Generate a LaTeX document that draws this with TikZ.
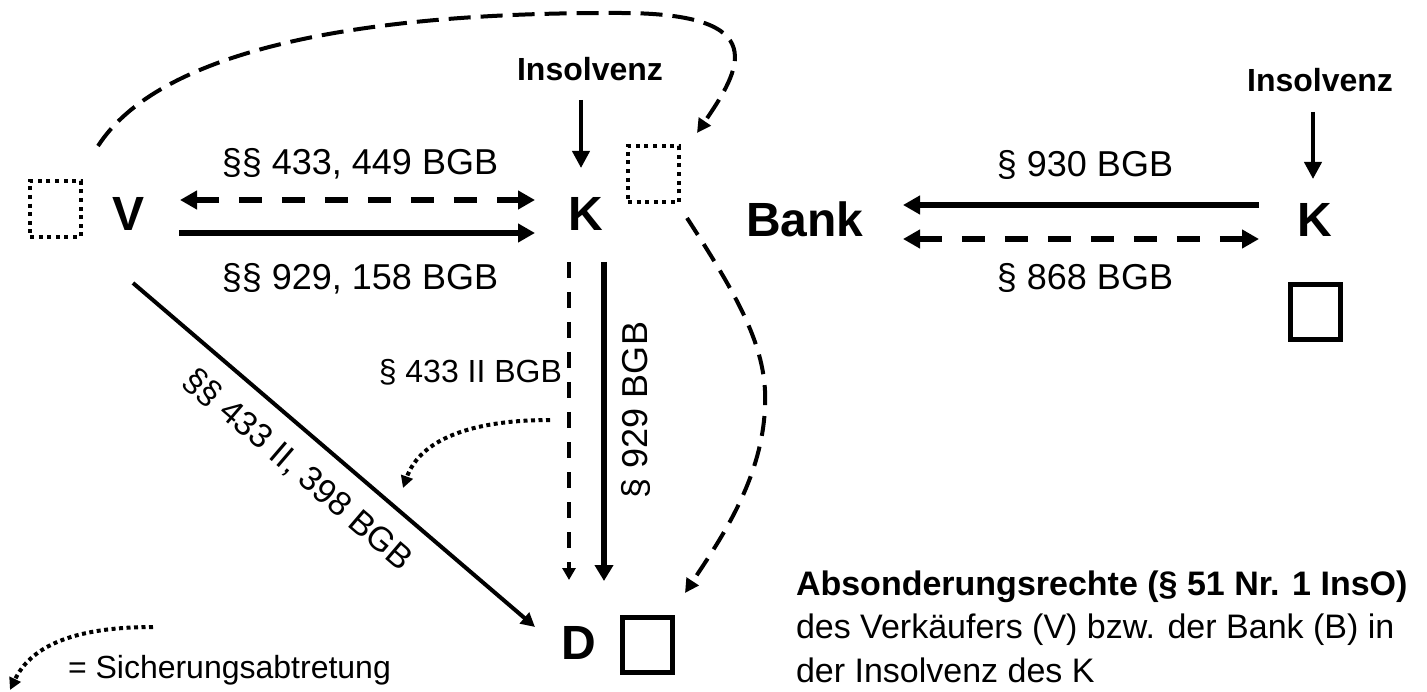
\documentclass[tikz,border=0pt]{standalone}
\usepackage{fontspec}
\setmainfont{Liberation Sans}
\usetikzlibrary{arrows.meta}
\begin{document}
\begin{tikzpicture}[x=1pt,y=-1pt,
  every node/.style={inner sep=0pt,outer sep=0pt},
  party/.style={font=\fontsize{48}{56}\selectfont\bfseries,anchor=base},
  ins/.style={font=\fontsize{32}{38}\selectfont\bfseries,anchor=base},
  lab/.style={font=\fontsize{36}{42}\selectfont,anchor=base},
  smalllab/.style={font=\fontsize{32}{38}\selectfont},
  bodytext/.style={font=\fontsize{34}{40}\selectfont,anchor=base west},
  dotbox/.style={draw,line width=4pt,dash pattern=on 4pt off 4.6pt,minimum width=51pt,minimum height=56pt},
  solidbox/.style={draw,line width=5pt,minimum width=50pt,minimum height=55pt},
  thickline/.style={line width=6pt},
  thickdash/.style={line width=6pt,dash pattern=on 23pt off 20pt},
  vdash/.style={line width=4pt,dash pattern=on 16pt off 14pt},
  curvedash/.style={line width=4pt,dash pattern=on 22pt off 10pt},
  dotline/.style={line width=4pt,dash pattern=on 4pt off 3.5pt},
  BigT/.tip={Triangle[length=17pt,width=18pt]},
  VertT/.tip={Triangle[length=16pt,width=18pt]},
  SmlT/.tip={Triangle[length=12pt,width=13pt]},
  InsT/.tip={Triangle[length=17pt,width=17pt]},
  MidT/.tip={Triangle[length=14pt,width=14pt]},
  DotT/.tip={Triangle[length=12pt,width=12pt]}
]
\useasboundingbox (0,0) rectangle (1427,692);

% parties
\node[party] (V) at (129,231) {V};
\node[party] (K1) at (585.5,231) {K};
\node[party] (Bank) at (805,237) {Bank};
\node[party] (K2) at (1315,237) {K};
\node[party] (D) at (579,659) {D};

% boxes
\node[dotbox] (box1) at (55.5,209) {};
\node[dotbox] (box2) at (653.5,174.5) {};
\node[solidbox] (box3) at (1315.5,312) {};
\node[solidbox] (box4) at (647.5,645) {};

% Insolvenz
\node[ins] (ins1) at (590,81) {Insolvenz};
\node[ins] (ins2) at (1320,92) {Insolvenz};
\coordinate (i1a) at (581,100); \coordinate (i1b) at (581,168);
\coordinate (i2a) at (1313,112); \coordinate (i2b) at (1313,179);
\draw[line width=4pt,-{InsT}] (i1a) -- (i1b);
\draw[line width=4pt,-{InsT}] (i2a) -- (i2b);

% V - K
\coordinate (vkA) at (180,200); \coordinate (kvA) at (535,200);
\coordinate (vkB) at (179,233); \coordinate (kvB) at (535,233);
\draw[thickdash,{BigT}-{BigT}] (vkA) -- (kvA);
\draw[thickline,-{BigT}] (vkB) -- (kvB);
\node[lab] (l1) at (360,175) {§§ 433, 449 BGB};
\node[lab] (l2) at (360,290) {§§ 929, 158 BGB};

% Bank - K
\coordinate (bkA) at (1259,205); \coordinate (kbA) at (903,205);
\coordinate (bkB) at (903,239); \coordinate (kbB) at (1259,239);
\draw[thickline,-{BigT}] (bkA) -- (kbA);
\draw[thickdash,{BigT}-{BigT}] (bkB) -- (kbB);
\node[lab] (l3) at (1085,177) {§ 930 BGB};
\node[lab] (l4) at (1085,290) {§ 868 BGB};

% K - D
\coordinate (kdA) at (569,262); \coordinate (dkA) at (569,580);
\coordinate (kdB) at (604,262); \coordinate (dkB) at (604,581);
\draw[vdash,-{SmlT}] (kdA) -- (dkA);
\draw[thickline,-{VertT}] (kdB) -- (dkB);
\node[smalllab,anchor=base east] (l5) at (562,383) {§ 433 II BGB};
\node[lab,rotate=90] (l6) at (647,410) {§ 929 BGB};

% V - D
\coordinate (vdA) at (133,283); \coordinate (vdB) at (535,627);
\draw[line width=4pt,-{MidT}] (vdA) -- (vdB);
\node[font=\fontsize{34}{40}\selectfont,rotate=-40.6] (l7) at (298,470) {§§ 433 II, 398 BGB};

% dashed curves
\coordinate (c1s) at (98,146); \coordinate (c1e) at (697,133);
\draw[curvedash,-{MidT}] (c1s) .. controls (160,50) and (360,12) .. (620,13)
      .. controls (775,13) and (740,70) .. (c1e);
\coordinate (c2s) at (687,218); \coordinate (c2e) at (685,593);
\draw[line width=4pt,dash pattern=on 20pt off 11pt,-{MidT}] (c2s) .. controls (740,300) and (768,350) .. (765,407)
      .. controls (762,480) and (720,540) .. (c2e);

% dotted curves
\coordinate (d1s) at (550,420); \coordinate (d1e) at (403,488);
\draw[dotline,-{DotT}] (d1s) .. controls (470,420) and (420,440) .. (d1e);
\coordinate (d2s) at (153,627); \coordinate (d2e) at (10,690);
\draw[dotline,-{DotT}] (d2s) .. controls (70,627) and (30,648) .. (d2e);
\node[smalllab,anchor=base west] (legend) at (68,678) {= Sicherungsabtretung};

% text block
\node[bodytext] (abs1) at (796,595) {\bfseries Absonderungsrechte (§ 51 Nr. 1 InsO)};
\node[bodytext] (abs2) at (796,638.5) {des Verkäufers (V) bzw. der Bank (B) in};
\node[bodytext] (abs3) at (796,682) {der Insolvenz des K};
\end{tikzpicture}
\end{document}
